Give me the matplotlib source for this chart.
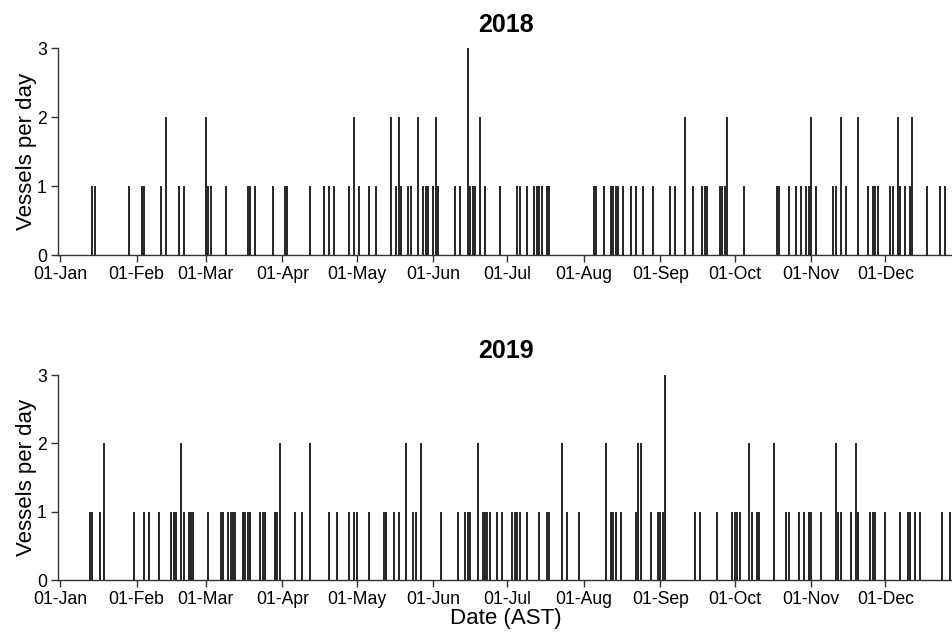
import numpy as np
import matplotlib
matplotlib.use("Agg")
import matplotlib.pyplot as plt
import matplotlib.dates as mdates

plt.rcParams['font.family'] = ['Liberation Sans', 'DejaVu Sans']

# day of year (0 = 01-Jan) and number of vessels that day
days_2018 = [13, 14, 28, 33, 34, 41, 43, 48, 50, 59, 60, 61, 67, 76, 77, 79, 86,
             91, 92, 101, 107, 109, 111, 117, 119, 121, 125, 128, 134, 136, 137, 138,
             141, 142, 145, 147, 148, 149, 151, 152, 153, 160, 162, 165, 166, 167, 168,
             170, 172, 178, 185, 186, 189, 192, 193, 194, 195, 197, 198, 216, 217, 220,
             223, 224, 225, 226, 228, 231, 233, 236, 240, 247, 249, 253, 256, 260, 261,
             262, 267, 268, 269, 270, 277, 290, 291, 295, 298, 300, 302, 303, 304, 306,
             313, 314, 316, 318, 323, 327, 329, 330, 331, 336, 337, 339, 340, 342, 344,
             345, 351, 356, 358]
counts_2018 = [1, 1, 1, 1, 1, 1, 2, 1, 1, 2, 1, 1, 1, 1, 1, 1, 1,
               1, 1, 1, 1, 1, 1, 1, 2, 1, 1, 1, 2, 1, 2, 1,
               1, 1, 2, 1, 1, 1, 1, 2, 1, 1, 1, 3, 1, 1, 1,
               2, 1, 1, 1, 1, 1, 1, 1, 1, 1, 1, 1, 1, 1, 1,
               1, 1, 1, 1, 1, 1, 1, 1, 1, 1, 1, 2, 1, 1, 1,
               1, 1, 1, 1, 2, 1, 1, 1, 1, 1, 1, 1, 1, 2, 1,
               1, 1, 2, 1, 2, 1, 1, 1, 1, 1, 1, 2, 1, 1, 1,
               2, 1, 1, 1]

days_2019 = [12, 13, 16, 18, 30, 34, 36, 40, 45, 46, 47, 49, 50, 52, 53, 54, 60,
             65, 66, 68, 69, 70, 71, 74, 75, 76, 77, 81, 82, 83, 87, 88, 89,
             95, 98, 101, 109, 112, 117, 119, 120, 125, 131, 132, 135, 137, 140, 143,
             144, 146, 154, 161, 164, 165, 166, 169, 171, 172, 173, 174, 177,
             179, 183, 184, 185, 186, 189, 194, 197, 198, 203, 205, 210, 221, 223,
             224, 225, 227, 233, 234, 235, 239, 242, 243, 244, 245, 257, 259, 266,
             272, 273, 274, 275, 279, 280, 282, 283, 289, 294, 295, 299, 301, 303,
             304, 308, 314, 315, 316, 320, 322, 323, 328, 329, 330, 334, 340, 343,
             344, 346, 348, 357, 360]
counts_2019 = [1, 1, 1, 2, 1, 1, 1, 1, 1, 1, 1, 2, 1, 1, 1, 1, 1,
               1, 1, 1, 1, 1, 1, 1, 1, 1, 1, 1, 1, 1, 1, 1, 2,
               1, 1, 2, 1, 1, 1, 1, 1, 1, 1, 1, 1, 1, 2, 1,
               1, 2, 1, 1, 1, 1, 1, 2, 1, 1, 1, 1, 1,
               1, 1, 1, 1, 1, 1, 1, 1, 1, 2, 1, 1, 2, 1,
               1, 1, 1, 1, 2, 2, 1, 1, 1, 1, 3, 1, 1, 1,
               1, 1, 1, 1, 2, 1, 1, 1, 2, 1, 1, 1, 1, 1,
               1, 1, 2, 1, 1, 1, 2, 1, 1, 1, 1, 1, 1, 1,
               1, 1, 1, 1, 1]

years = ['2018', '2019']
data = {'2018': (days_2018, counts_2018), '2019': (days_2019, counts_2019)}

fig = plt.figure(figsize=(9.53, 6.35), dpi=100)
ax_top = fig.add_axes([0.0609, 0.5984, 0.9391, 0.3255])
ax_bot = fig.add_axes([0.0609, 0.0866, 0.9391, 0.3228])

for ax, yr in zip([ax_top, ax_bot], years):
    days, counts = data[yr]
    start = np.datetime64(yr + '-01-01')
    dates = start + np.array(days).astype('timedelta64[D]')
    ax.vlines(dates, 0, counts, color='black', lw=1.2)
    x0 = mdates.date2num(start)
    ax.set_xlim(x0 - 0.8, x0 + 361.4)
    ax.set_ylim(0, 3)
    ax.set_yticks([0, 1, 2, 3])
    ax.xaxis.set_major_locator(mdates.MonthLocator())
    ax.xaxis.set_major_formatter(mdates.DateFormatter('%d-%b'))
    for s in ['top', 'right']:
        ax.spines[s].set_visible(False)
    for s in ['left', 'bottom']:
        ax.spines[s].set_color('#333333')
        ax.spines[s].set_linewidth(1.0)
    ax.tick_params(axis='both', labelsize=12.7, length=5, width=1.0,
                   color='#333333', labelcolor='black', pad=3)
    ax.set_title(yr, fontsize=18, fontweight='bold', pad=12)
    ax.set_ylabel('Vessels per day', fontsize=16, labelpad=0)

ax_bot.set_xlabel('Date (AST)', fontsize=16, labelpad=0)

plt.savefig('out.png', dpi=100)
